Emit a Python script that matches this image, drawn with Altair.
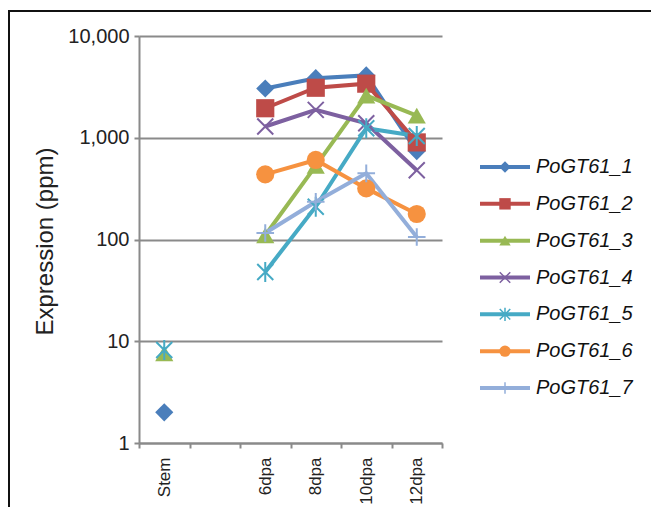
import altair as alt
import pandas as pd

categories = ["Stem", " ", "6dpa", "8dpa", "10dpa", "12dpa"]
series = ["PoGT61_1", "PoGT61_2", "PoGT61_3", "PoGT61_4", "PoGT61_5", "PoGT61_6", "PoGT61_7"]
colors = ["#4A7EBB", "#BE4B48", "#98B954", "#7D60A0", "#46AAC5", "#F69240", "#93AEDA"]
shapes = ["diamond", "square", "triangle-up",
          "M-1,-1L1,1M-1,1L1,-1",
          "M-1,-1L1,1M-1,1L1,-1M0,-1.25L0,1.25",
          "circle",
          "M-1.1,0L1.1,0M0,-1.1L0,1.1"]
filled_series = ["PoGT61_1", "PoGT61_2", "PoGT61_3", "PoGT61_6"]

# values per series: Stem, (gap), 6dpa, 8dpa, 10dpa, 12dpa
s1 = [2, None, 3050, 3850, 4100, 740]
s2 = [None, None, 1950, 3100, 3400, 900]
s3 = [7.6, None, 110, 530, 2600, 1650]
s4 = [None, None, 1290, 1880, 1390, 480]
s5 = [8.2, None, 48, 210, 1240, 1040]
s6 = [None, None, 437, 605, 318, 178]
s7 = [None, None, 116, 235, 447, 106]
all_values = [s1, s2, s3, s4, s5, s6, s7]

rows = []
for si, (name, vals) in enumerate(zip(series, all_values)):
    for ci, (cat, v) in enumerate(zip(categories, vals)):
        if v is not None:
            rows.append({"series": name, "sidx": si, "category": cat, "idx": ci, "value": v})
df = pd.DataFrame(rows)
leg = pd.DataFrame({"series": series, "sidx": list(range(len(series)))})

font = "Liberation Sans"
gray = "#8a8a8a"

color_enc = alt.Color("series:N", scale=alt.Scale(domain=series, range=colors), legend=None)
shape_enc = alt.Shape("series:N", scale=alt.Scale(domain=series, range=shapes), legend=None)
x_enc = alt.X("category:N",
              scale=alt.Scale(type="band", domain=categories, paddingInner=0, paddingOuter=0),
              axis=alt.Axis(title=None, labelAngle=270, tickBand="extent", ticks=True, tickSize=5,
                            tickColor=gray, tickWidth=2, domainColor=gray, domainWidth=2,
                            labelPadding=9, labelFontSize=17, labelFont=font, labelColor="#222",
                            grid=False))
y_scale = alt.Scale(type="log", domain=[1, 10000])
y_axis = alt.Axis(values=[1, 10, 100, 1000, 10000], format=",", grid=True, gridColor=gray,
                  gridWidth=2, domainColor=gray, domainWidth=2, tickColor=gray, tickWidth=2,
                  tickSize=5, labelFontSize=20, labelFont=font, labelColor="#222", labelPadding=5,
                  title="Expression (ppm)", titleFontSize=24, titleFont=font,
                  titleFontWeight="normal", titleColor="#222", titleX=-94, titleY=205,
                  titleAngle=270, titleAlign="center", titleBaseline="middle")

base = alt.Chart(df)

lines = base.transform_filter(alt.datum.category != "Stem").mark_line(strokeWidth=4).encode(
    x=x_enc,
    y=alt.Y("value:Q", scale=y_scale, axis=y_axis),
    color=color_enc,
    detail="series:N",
    order=alt.Order("idx:Q"),
)

pts_filled = base.transform_filter(
    alt.FieldOneOfPredicate(field="series", oneOf=filled_series)
).mark_point(filled=True, opacity=1, strokeWidth=0).encode(
    x=x_enc,
    y=alt.Y("value:Q", scale=y_scale, axis=None),
    color=color_enc,
    shape=shape_enc,
    size=alt.value(330),
    order=alt.Order("sidx:Q"),
)

pts_stroked = base.transform_filter(
    ~alt.FieldOneOfPredicate(field="series", oneOf=filled_series)
).mark_point(filled=False, opacity=1, strokeWidth=2).encode(
    x=x_enc,
    y=alt.Y("value:Q", scale=y_scale, axis=None),
    color=color_enc,
    shape=shape_enc,
    size=alt.value(256),
    order=alt.Order("sidx:Q"),
)

leg_y = alt.Y("series:N", scale=alt.Scale(type="point", domain=series, range=[131, 352], padding=0),
              axis=None)
legbase = alt.Chart(leg)
leg_rule = legbase.mark_rule(strokeWidth=4).encode(
    x=alt.value(341), x2=alt.value(391), y=leg_y, color=color_enc)
leg_pf = legbase.transform_filter(
    alt.FieldOneOfPredicate(field="series", oneOf=filled_series)
).mark_point(filled=True, opacity=1, strokeWidth=0).encode(
    x=alt.value(366), y=leg_y, color=color_enc, shape=shape_enc, size=alt.value(130))
leg_ps = legbase.transform_filter(
    ~alt.FieldOneOfPredicate(field="series", oneOf=filled_series)
).mark_point(filled=False, opacity=1, strokeWidth=1.5).encode(
    x=alt.value(366), y=leg_y, color=color_enc, shape=shape_enc, size=alt.value(110))
leg_text = legbase.mark_text(align="left", baseline="middle", fontStyle="italic", fontSize=20,
                             font=font, color="#111").encode(
    x=alt.value(397), y=leg_y, text="series:N")

border_top = alt.Chart(leg).mark_rule(color="#111", strokeWidth=2).encode(
    x=alt.value(-131), x2=alt.value(520), y=alt.value(-25))
border_left = alt.Chart(leg).mark_rule(color="#111", strokeWidth=2).encode(
    x=alt.value(-130), y=alt.value(-26), y2=alt.value(500))

chart = alt.layer(
    lines, pts_filled, pts_stroked, leg_rule, leg_pf, leg_ps, leg_text, border_top, border_left
).resolve_scale(y="independent").properties(
    width=303, height=407,
    autosize=alt.AutoSizeParams(type="none"),
    padding={"left": 131, "top": 28, "right": 209, "bottom": 64},
    background="white",
).configure_view(stroke=None)

chart.save("out.html", embed_options={"renderer": "svg", "actions": False})
